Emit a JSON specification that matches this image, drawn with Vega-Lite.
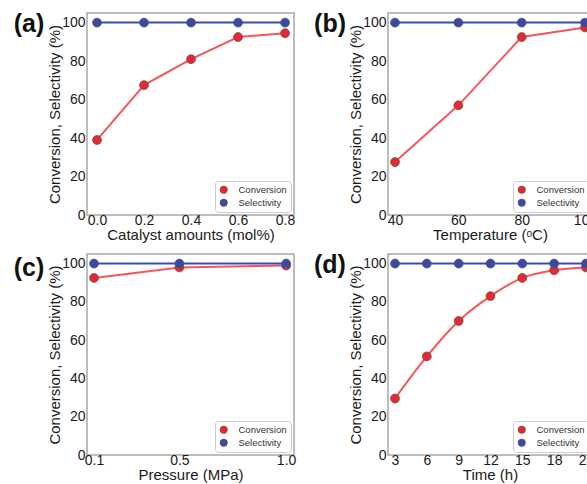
{
  "$schema": "https://vega.github.io/schema/vega-lite/v6.json",
  "padding": {"left": 12, "top": 10, "right": 0, "bottom": 0},
  "background": "white",
  "columns": 2,
  "spacing": {"row": 8, "column": 16},
  "config": {
    "font": "Liberation Sans",
    "view": {"stroke": "#a8a8a8", "strokeWidth": 1.5},
    "axis": {"grid": false, "domain": false, "ticks": false, "labelFontSize": 14, "labelColor": "#1a1a1a", "titleFontSize": 15, "titleFontWeight": "normal", "titleColor": "#1a1a1a", "labelFlush": false, "labelOverlap": false, "labelBound": false},
    "axisX": {"labelPadding": -2, "titlePadding": 0},
    "axisY": {"labelPadding": 2, "titlePadding": -1},
    "legend": {"orient": "bottom-right", "offset": 3, "padding": 4, "strokeColor": "#cccccc", "cornerRadius": 3, "labelFontSize": 9.5, "labelColor": "#333", "labelOffset": 10, "symbolSize": 55, "rowPadding": 2, "fillColor": "white", "symbolStrokeWidth": 0.6}
  },
  "resolve": {"scale": {"x": "independent", "y": "independent", "color": "independent"}, "legend": {"color": "independent"}},
  "concat": [
    {
      "width": 207, "height": 202,
      "data": {"values": [
        {"x": 0.0, "series": "Conversion", "value": 39},
        {"x": 0.2, "series": "Conversion", "value": 67.5},
        {"x": 0.4, "series": "Conversion", "value": 81},
        {"x": 0.6, "series": "Conversion", "value": 92.5},
        {"x": 0.8, "series": "Conversion", "value": 94.5},
        {"x": 0.0, "series": "Selectivity", "value": 100},
        {"x": 0.2, "series": "Selectivity", "value": 100},
        {"x": 0.4, "series": "Selectivity", "value": 100},
        {"x": 0.6, "series": "Selectivity", "value": 100},
        {"x": 0.8, "series": "Selectivity", "value": 100}
      ]},
      "layer": [
        {"transform": [{"filter": "datum.series === 'Conversion'"}], "mark": {"type": "line", "strokeWidth": 2, "color": "#f4565c"},
         "encoding": {
           "x": {"field": "x", "type": "quantitative", "scale": {"domain": [-0.0426, 0.838], "nice": false, "zero": false}, "axis": {"values": [0, 0.2, 0.4, 0.6, 0.8], "format": ".1f", "labelOverlap": false, "title": "Catalyst amounts (mol%)"}},
           "y": {"field": "value", "type": "quantitative", "scale": {"domain": [0, 105], "nice": false}, "axis": {"values": [0, 20, 40, 60, 80, 100], "labelOverlap": false, "title": "Conversion, Selectivity (%)"}}
         }},
        {"transform": [{"filter": "datum.series === 'Selectivity'"}], "mark": {"type": "line", "strokeWidth": 2, "color": "#3a4db2"},
         "encoding": {
           "x": {"field": "x", "type": "quantitative", "axis": {"values": [0, 0.2, 0.4, 0.6, 0.8], "format": ".1f", "labelOverlap": false, "title": "Catalyst amounts (mol%)"}},
           "y": {"field": "value", "type": "quantitative", "axis": {"values": [0, 20, 40, 60, 80, 100], "labelOverlap": false, "title": "Conversion, Selectivity (%)"}}
         }},
        {"mark": {"type": "point", "filled": true, "size": 80, "opacity": 1, "stroke": "#555", "strokeWidth": 0.7},
         "encoding": {
           "x": {"field": "x", "type": "quantitative", "axis": {"values": [0, 0.2, 0.4, 0.6, 0.8], "format": ".1f", "labelOverlap": false, "title": "Catalyst amounts (mol%)"}},
           "y": {"field": "value", "type": "quantitative", "axis": {"values": [0, 20, 40, 60, 80, 100], "labelOverlap": false, "title": "Conversion, Selectivity (%)"}},
           "color": {"field": "series", "type": "nominal", "scale": {"domain": ["Conversion", "Selectivity"], "range": ["#e8282f", "#3a48a8"]}, "legend": {"title": null}}
         }},
        {"data": {"values": [{"label": "(a)"}]},
         "mark": {"type": "text", "fontSize": 25, "fontWeight": "bold", "align": "center", "baseline": "middle", "clip": false, "color": "#111"},
         "encoding": {
           "x": {"datum": -0.289, "type": "quantitative", "axis": {"values": [0, 0.2, 0.4, 0.6, 0.8], "format": ".1f", "labelOverlap": false, "title": "Catalyst amounts (mol%)"}},
           "y": {"datum": 99.5, "type": "quantitative", "axis": {"values": [0, 20, 40, 60, 80, 100], "labelOverlap": false, "title": "Conversion, Selectivity (%)"}},
           "text": {"field": "label"}}}
      ]
    },
    {
      "width": 204, "height": 202,
      "data": {"values": [
        {"x": 40, "series": "Conversion", "value": 27.5},
        {"x": 60, "series": "Conversion", "value": 57},
        {"x": 80, "series": "Conversion", "value": 92.5},
        {"x": 100, "series": "Conversion", "value": 97.5},
        {"x": 40, "series": "Selectivity", "value": 100},
        {"x": 60, "series": "Selectivity", "value": 100},
        {"x": 80, "series": "Selectivity", "value": 100},
        {"x": 100, "series": "Selectivity", "value": 100}
      ]},
      "layer": [
        {"transform": [{"filter": "datum.series === 'Conversion'"}], "mark": {"type": "line", "strokeWidth": 2, "color": "#f4565c"},
         "encoding": {
           "x": {"field": "x", "type": "quantitative", "scale": {"domain": [37.79, 102.2], "nice": false, "zero": false}, "axis": {"values": [40, 60, 80, 100], "labelOverlap": false, "title": "Temperature (\u1d52C)"}},
           "y": {"field": "value", "type": "quantitative", "scale": {"domain": [0, 105], "nice": false}, "axis": {"values": [0, 20, 40, 60, 80, 100], "labelOverlap": false, "title": "Conversion, Selectivity (%)"}}
         }},
        {"transform": [{"filter": "datum.series === 'Selectivity'"}], "mark": {"type": "line", "strokeWidth": 2, "color": "#3a4db2"},
         "encoding": {
           "x": {"field": "x", "type": "quantitative", "axis": {"values": [40, 60, 80, 100], "labelOverlap": false, "title": "Temperature (\u1d52C)"}},
           "y": {"field": "value", "type": "quantitative", "axis": {"values": [0, 20, 40, 60, 80, 100], "labelOverlap": false, "title": "Conversion, Selectivity (%)"}}
         }},
        {"mark": {"type": "point", "filled": true, "size": 80, "opacity": 1, "stroke": "#555", "strokeWidth": 0.7},
         "encoding": {
           "x": {"field": "x", "type": "quantitative", "axis": {"values": [40, 60, 80, 100], "labelOverlap": false, "title": "Temperature (\u1d52C)"}},
           "y": {"field": "value", "type": "quantitative", "axis": {"values": [0, 20, 40, 60, 80, 100], "labelOverlap": false, "title": "Conversion, Selectivity (%)"}},
           "color": {"field": "series", "type": "nominal", "scale": {"domain": ["Conversion", "Selectivity"], "range": ["#e8282f", "#3a48a8"]}, "legend": {"title": null}}
         }},
        {"data": {"values": [{"label": "(b)"}]},
         "mark": {"type": "text", "fontSize": 25, "fontWeight": "bold", "align": "center", "baseline": "middle", "clip": false, "color": "#111"},
         "encoding": {
           "x": {"datum": 19.48, "type": "quantitative", "axis": {"values": [40, 60, 80, 100], "labelOverlap": false, "title": "Temperature (\u1d52C)"}},
           "y": {"datum": 99.5, "type": "quantitative", "axis": {"values": [0, 20, 40, 60, 80, 100], "labelOverlap": false, "title": "Conversion, Selectivity (%)"}},
           "text": {"field": "label"}}}
      ]
    },
    {
      "width": 207, "height": 201,
      "data": {"values": [
        {"x": 0.1, "series": "Conversion", "value": 92.5},
        {"x": 0.5, "series": "Conversion", "value": 98},
        {"x": 1.0, "series": "Conversion", "value": 99},
        {"x": 0.1, "series": "Selectivity", "value": 100},
        {"x": 0.5, "series": "Selectivity", "value": 100},
        {"x": 1.0, "series": "Selectivity", "value": 100}
      ]},
      "layer": [
        {"transform": [{"filter": "datum.series === 'Conversion'"}], "mark": {"type": "line", "strokeWidth": 2, "color": "#f4565c"},
         "encoding": {
           "x": {"field": "x", "type": "quantitative", "scale": {"domain": [0.067, 1.037], "nice": false, "zero": false}, "axis": {"values": [0.1, 0.5, 1.0], "format": ".1f", "labelOverlap": false, "title": "Pressure (MPa)"}},
           "y": {"field": "value", "type": "quantitative", "scale": {"domain": [0, 105], "nice": false}, "axis": {"values": [0, 20, 40, 60, 80, 100], "labelOverlap": false, "title": "Conversion, Selectivity (%)"}}
         }},
        {"transform": [{"filter": "datum.series === 'Selectivity'"}], "mark": {"type": "line", "strokeWidth": 2, "color": "#3a4db2"},
         "encoding": {
           "x": {"field": "x", "type": "quantitative", "axis": {"values": [0.1, 0.5, 1.0], "format": ".1f", "labelOverlap": false, "title": "Pressure (MPa)"}},
           "y": {"field": "value", "type": "quantitative", "axis": {"values": [0, 20, 40, 60, 80, 100], "labelOverlap": false, "title": "Conversion, Selectivity (%)"}}
         }},
        {"mark": {"type": "point", "filled": true, "size": 80, "opacity": 1, "stroke": "#555", "strokeWidth": 0.7},
         "encoding": {
           "x": {"field": "x", "type": "quantitative", "axis": {"values": [0.1, 0.5, 1.0], "format": ".1f", "labelOverlap": false, "title": "Pressure (MPa)"}},
           "y": {"field": "value", "type": "quantitative", "axis": {"values": [0, 20, 40, 60, 80, 100], "labelOverlap": false, "title": "Conversion, Selectivity (%)"}},
           "color": {"field": "series", "type": "nominal", "scale": {"domain": ["Conversion", "Selectivity"], "range": ["#e8282f", "#3a48a8"]}, "legend": {"title": null}}
         }},
        {"data": {"values": [{"label": "(c)"}]},
         "mark": {"type": "text", "fontSize": 25, "fontWeight": "bold", "align": "center", "baseline": "middle", "clip": false, "color": "#111"},
         "encoding": {
           "x": {"datum": -0.205, "type": "quantitative", "axis": {"values": [0.1, 0.5, 1.0], "format": ".1f", "labelOverlap": false, "title": "Pressure (MPa)"}},
           "y": {"datum": 97.5, "type": "quantitative", "axis": {"values": [0, 20, 40, 60, 80, 100], "labelOverlap": false, "title": "Conversion, Selectivity (%)"}},
           "text": {"field": "label"}}}
      ]
    },
    {
      "width": 204, "height": 201,
      "data": {"values": [
        {"x": 3, "series": "Conversion", "value": 29.5},
        {"x": 6, "series": "Conversion", "value": 51.5},
        {"x": 9, "series": "Conversion", "value": 70},
        {"x": 12, "series": "Conversion", "value": 83},
        {"x": 15, "series": "Conversion", "value": 92.5},
        {"x": 18, "series": "Conversion", "value": 96.5},
        {"x": 21, "series": "Conversion", "value": 98},
        {"x": 3, "series": "Selectivity", "value": 100},
        {"x": 6, "series": "Selectivity", "value": 100},
        {"x": 9, "series": "Selectivity", "value": 100},
        {"x": 12, "series": "Selectivity", "value": 100},
        {"x": 15, "series": "Selectivity", "value": 100},
        {"x": 18, "series": "Selectivity", "value": 100},
        {"x": 21, "series": "Selectivity", "value": 100}
      ]},
      "layer": [
        {"transform": [{"filter": "datum.series === 'Conversion'"}], "mark": {"type": "line", "strokeWidth": 2, "color": "#f4565c", "interpolate": "monotone"},
         "encoding": {
           "x": {"field": "x", "type": "quantitative", "scale": {"domain": [2.34, 21.57], "nice": false, "zero": false}, "axis": {"values": [3, 6, 9, 12, 15, 18, 21], "labelOverlap": false, "title": "Time (h)"}},
           "y": {"field": "value", "type": "quantitative", "scale": {"domain": [0, 105], "nice": false}, "axis": {"values": [0, 20, 40, 60, 80, 100], "labelOverlap": false, "title": "Conversion, Selectivity (%)"}}
         }},
        {"transform": [{"filter": "datum.series === 'Selectivity'"}], "mark": {"type": "line", "strokeWidth": 2, "color": "#3a4db2"},
         "encoding": {
           "x": {"field": "x", "type": "quantitative", "axis": {"values": [3, 6, 9, 12, 15, 18, 21], "labelOverlap": false, "title": "Time (h)"}},
           "y": {"field": "value", "type": "quantitative", "axis": {"values": [0, 20, 40, 60, 80, 100], "labelOverlap": false, "title": "Conversion, Selectivity (%)"}}
         }},
        {"mark": {"type": "point", "filled": true, "size": 80, "opacity": 1, "stroke": "#555", "strokeWidth": 0.7},
         "encoding": {
           "x": {"field": "x", "type": "quantitative", "axis": {"values": [3, 6, 9, 12, 15, 18, 21], "labelOverlap": false, "title": "Time (h)"}},
           "y": {"field": "value", "type": "quantitative", "axis": {"values": [0, 20, 40, 60, 80, 100], "labelOverlap": false, "title": "Conversion, Selectivity (%)"}},
           "color": {"field": "series", "type": "nominal", "scale": {"domain": ["Conversion", "Selectivity"], "range": ["#e8282f", "#3a48a8"]}, "legend": {"title": null}}
         }},
        {"data": {"values": [{"label": "(d)"}]},
         "mark": {"type": "text", "fontSize": 25, "fontWeight": "bold", "align": "center", "baseline": "middle", "clip": false, "color": "#111"},
         "encoding": {
           "x": {"datum": -3.13, "type": "quantitative", "axis": {"values": [3, 6, 9, 12, 15, 18, 21], "labelOverlap": false, "title": "Time (h)"}},
           "y": {"datum": 99.5, "type": "quantitative", "axis": {"values": [0, 20, 40, 60, 80, 100], "labelOverlap": false, "title": "Conversion, Selectivity (%)"}},
           "text": {"field": "label"}}}
      ]
    }
  ]
}
